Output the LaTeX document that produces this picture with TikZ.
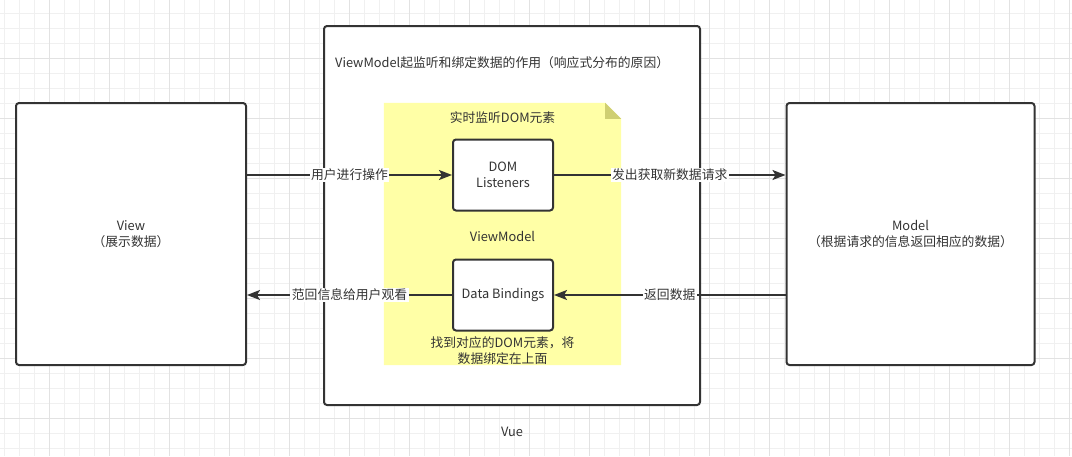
\documentclass[tikz,border=0pt]{standalone}
\usepackage{fontspec}
\setmainfont{Noto Sans CJK SC}
\usetikzlibrary{arrows.meta}
\definecolor{ink}{HTML}{333333}
\definecolor{gridminor}{HTML}{F0F0F0}
\definecolor{gridmajor}{HTML}{E2E2E2}
\definecolor{notefill}{HTML}{FFFFA6}
\definecolor{foldfill}{HTML}{CFCF72}
\tikzset{
  box/.style={draw=ink, line width=2pt, rounded corners=3pt, fill=white, inner sep=0pt, align=center, text=ink},
  txt/.style={text=ink, inner sep=0pt, align=center},
  arr/.style={draw=ink, line width=2pt, -{Stealth[length=13pt,width=10pt,inset=3pt]}},
  lbl/.style={fill=white, text=ink, inner sep=1.5pt, midway},
}
\begin{document}
\begin{tikzpicture}[x=1pt,y=-1pt,font=\fontsize{12.8}{16}\selectfont]
\useasboundingbox (0,0) rectangle (1072,456);
% grid
\foreach \i in {0,...,71} \draw[gridminor, line width=0.9pt] ({4.3+15*\i},0) -- ({4.3+15*\i},456);
\foreach \j in {0,...,29} \draw[gridminor, line width=0.9pt] (0,{13.3+15*\j}) -- (1072,{13.3+15*\j});
\foreach \i in {0,...,17} \draw[gridmajor, line width=0.9pt] ({49.3+60*\i},0) -- ({49.3+60*\i},456);
\foreach \j in {0,...,6} \draw[gridmajor, line width=0.9pt] (0,{58.3+60*\j}) -- (1072,{58.3+60*\j});
% outer Vue box
\node[box, minimum width=376pt, minimum height=379pt] (vue) at (512,215.5) {};
\node[txt, anchor=west] (vmtitle) at (335,63) {ViewModel起监听和绑定数据的作用（响应式分布的原因）};
\node[txt] (vuelabel) at (512,432) {Vue};
% yellow note
\node[minimum width=237pt, minimum height=262pt, inner sep=0pt] (note) at (502.5,234) {};
\fill[notefill] (note.north west) -- ([xshift=-16pt]note.north east) -- ([yshift=-16pt]note.north east) -- (note.south east) -- (note.south west) -- cycle;
\fill[foldfill] ([xshift=-16pt]note.north east) -- ([yshift=-16pt]note.north east) -- ([xshift=-16pt,yshift=-16pt]note.north east) -- cycle;
\node[txt] (notetitle) at (502.5,118) {实时监听DOM元素};
\node[txt] (vmlabel) at (502.5,236) {ViewModel};
\node[txt] (bindnote) at (502.5,351) {找到对应的DOM元素，将\\数据绑定在上面};
% side boxes
\node[box, minimum width=230pt, minimum height=262pt] (view) at (131,234) {View\\（展示数据）};
\node[box, minimum width=248pt, minimum height=262pt] (model) at (910.5,234) {Model\\（根据请求的信息返回相应的数据）};
% inner boxes
\node[box, minimum width=100pt, minimum height=71pt] (dom) at (503,175) {DOM\\Listeners};
\node[box, minimum width=100pt, minimum height=71pt] (db) at (503,295) {Data Bindings};
% connectors
\draw[arr] (view.east |- dom.west) -- node[lbl] {用户进行操作} (dom.west);
\draw[arr] (dom.east) -- node[lbl] {发出获取新数据请求} (dom.east -| model.west);
\draw[arr] (model.west |- db.east) -- node[lbl] {返回数据} (db.east);
\draw[arr] (db.west) -- node[lbl] {范回信息给用户观看} (db.west -| view.east);
\end{tikzpicture}
\end{document}
